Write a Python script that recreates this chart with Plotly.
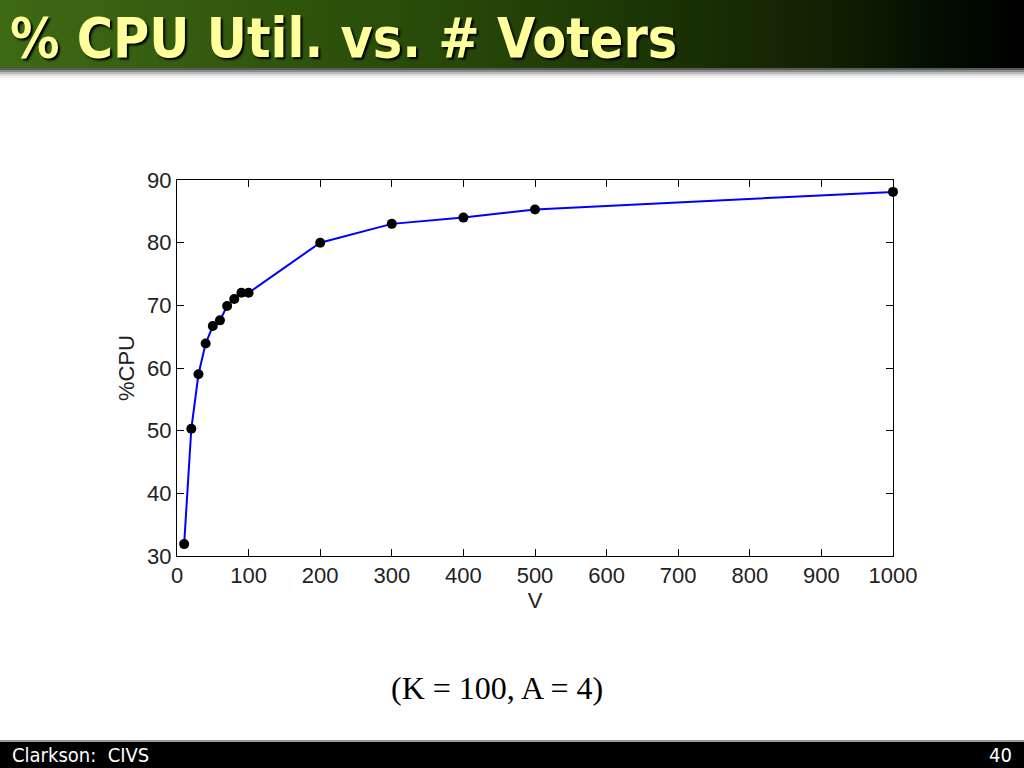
import plotly.graph_objects as go

voters = [10, 20, 30, 40, 50, 60, 70, 80, 90, 100, 200, 300, 400, 500, 1000]
cpu = [31.9, 50.3, 59.0, 63.9, 66.7, 67.6, 69.9, 71.0, 72.0, 72.0, 80.0, 83.0, 84.0, 85.3, 88.1]
x_ticks = [0, 100, 200, 300, 400, 500, 600, 700, 800, 900, 1000]
y_ticks = [30, 40, 50, 60, 70, 80, 90]

title_text = "% CPU Util. vs. # Voters"
caption = "(K = 100, A = 4)"
footer_left = "Clarkson:  CIVS"
footer_right = "40"

# plot area in page pixels
L, R, T, B = 177, 893, 180, 556
PW, PH = R - L, B - T


def px(xp):
    return (xp - L) / PW


def py(yp):
    return (B - yp) / PH


fig = go.Figure()
fig.add_trace(go.Scatter(
    x=voters, y=cpu, mode="lines+markers",
    line=dict(color="#0000ff", width=2),
    marker=dict(color="black", size=10),
    showlegend=False, cliponaxis=False,
))

tick_font = dict(family="Liberation Sans Narrow, Liberation Sans, Arial", size=22, color="#222")
fig.update_xaxes(
    range=[0, 1000], tickvals=x_ticks, ticks="inside", ticklen=7, tickcolor="black",
    showline=True, linecolor="black", linewidth=1, mirror="ticks", showgrid=False,
    zeroline=False, tickfont=tick_font,
    title=dict(text="V", font=tick_font, standoff=0),
)
fig.update_yaxes(
    range=[30, 90], tickvals=y_ticks, ticks="inside", ticklen=7, tickcolor="black",
    showline=True, linecolor="black", linewidth=1, mirror="ticks", showgrid=False,
    zeroline=False, tickfont=tick_font,
    title=dict(text="%CPU", font=tick_font, standoff=6),
)

shapes = []
W = 1024
n = 128


def lerp(a, b, t):
    return tuple(int(round(a[i] + (b[i] - a[i]) * t)) for i in range(3))


stops = [(0.0, (62, 105, 20)), (0.45, (38, 72, 8)), (0.8, (18, 34, 2)), (0.94, (0, 10, 0)), (1.0, (0, 0, 0))]
for i in range(n):
    t = (i + 0.5) / n
    c = stops[-1][1]
    for j in range(len(stops) - 1):
        if stops[j][0] <= t <= stops[j + 1][0]:
            tt = (t - stops[j][0]) / (stops[j + 1][0] - stops[j][0])
            c = lerp(stops[j][1], stops[j + 1][1], tt)
            break
    x0 = i * W / n
    x1 = (i + 1) * W / n + 0.6
    shapes.append(dict(type="rect", xref="paper", yref="paper",
                       x0=px(x0), x1=px(x1), y0=py(0), y1=py(68),
                       line=dict(width=0), fillcolor="rgb(%d,%d,%d)" % c, layer="below"))
# shadow under the title bar
for k, g in enumerate([90, 140, 185, 220, 242]):
    shapes.append(dict(type="rect", xref="paper", yref="paper",
                       x0=px(0), x1=px(W),
                       y0=py(68 + k * 2), y1=py(68 + k * 2 + 2),
                       line=dict(width=0), fillcolor="rgb(%d,%d,%d)" % (g, g, g), layer="below"))
# footer
shapes.append(dict(type="rect", xref="paper", yref="paper",
                   x0=px(0), x1=px(W), y0=py(740), y1=py(768),
                   line=dict(width=0), fillcolor="#999", layer="below"))
shapes.append(dict(type="rect", xref="paper", yref="paper",
                   x0=px(0), x1=px(W), y0=py(742), y1=py(768),
                   line=dict(width=0), fillcolor="black", layer="below"))

annotations = [
    dict(text="<b>" + title_text + "</b>", xref="paper", yref="paper",
         x=px(8), y=py(38), xanchor="left", yanchor="middle", showarrow=False,
         font=dict(family="Liberation Sans Narrow, DejaVu Sans Condensed, Open Sans", size=55,
                   color="#ffff9c", shadow="2px 2px 2px #000")),
    dict(text=caption, xref="paper", yref="paper", x=px(497), y=py(688),
         xanchor="center", yanchor="middle", showarrow=False,
         font=dict(family="Liberation Serif, Times New Roman", size=32, color="black")),
    dict(text=footer_left, xref="paper", yref="paper", x=px(10), y=py(755),
         xanchor="left", yanchor="middle", showarrow=False,
         font=dict(family="DejaVu Sans Condensed, Open Sans", size=20, color="white")),
    dict(text=footer_right, xref="paper", yref="paper", x=px(1014), y=py(755),
         xanchor="right", yanchor="middle", showarrow=False,
         font=dict(family="DejaVu Sans Condensed, Open Sans", size=20, color="white")),
]

fig.update_layout(
    width=1024, height=768, autosize=False,
    margin=dict(l=L, r=W - R, t=T, b=768 - B, pad=0),
    paper_bgcolor="white", plot_bgcolor="white",
    shapes=shapes, annotations=annotations,
)

fig.write_html("out.html", config=dict(displayModeBar=False),
               post_script="document.body.style.margin='0';document.body.style.overflow='hidden';")
